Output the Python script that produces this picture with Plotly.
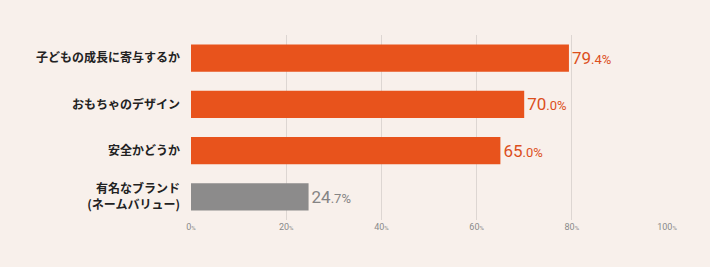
import plotly.graph_objects as go

categories = ["子どもの成長に寄与するか", "おもちゃのデザイン", "安全かどうか", "有名なブランド<br>(ネームバリュー)"]
values = [79.4, 70.0, 65.0, 24.7]
bar_colors = ["#e8531c", "#e8531c", "#e8531c", "#8c8b8b"]
label_colors = ["#dc4f1c", "#dc4f1c", "#dc4f1c", "#858484"]
tick_values = [0, 20, 40, 60, 80, 100]
tick_labels = [f"{v}<span style='font-size:6px'>%</span>" for v in tick_values]

def fmt(v):
    whole, dec = f"{v:.1f}".split(".")
    return f"{whole}<span style='font-size:13px'>.{dec}%</span>"

fig = go.Figure()
fig.add_trace(go.Bar(
    x=values, y=categories, orientation="h",
    marker=dict(color=bar_colors, line=dict(width=0)),
    width=0.59,
    text=[fmt(v) for v in values],
    textposition="outside",
    textfont=dict(family="Liberation Sans Narrow, Roboto, sans-serif", size=17, color=label_colors),
    cliponaxis=False,
    hoverinfo="skip",
))
fig.update_layout(
    width=710, height=267,
    margin=dict(l=191, r=43, t=35, b=47),
    paper_bgcolor="#f8f0eb", plot_bgcolor="#f8f0eb",
    showlegend=False,
    bargap=0.41,
)
fig.update_xaxes(
    range=[0, 100], tickvals=tick_values, ticktext=tick_labels,
    showgrid=True, gridcolor="#ddd6d2", gridwidth=1,
    zeroline=False, showline=False,
    tickfont=dict(family="Liberation Sans Narrow, Roboto, sans-serif", size=9, color="#8a8a8a"),
    ticks="", ticklabelstandoff=0,
)
fig.update_yaxes(
    autorange="reversed", showgrid=False, zeroline=False, showline=False,
    tickfont=dict(family="Noto Sans CJK JP, sans-serif", size=12, color="#222222", weight="bold"),
    ticks="", ticklabelstandoff=10,
)
fig.write_html("out.html")
